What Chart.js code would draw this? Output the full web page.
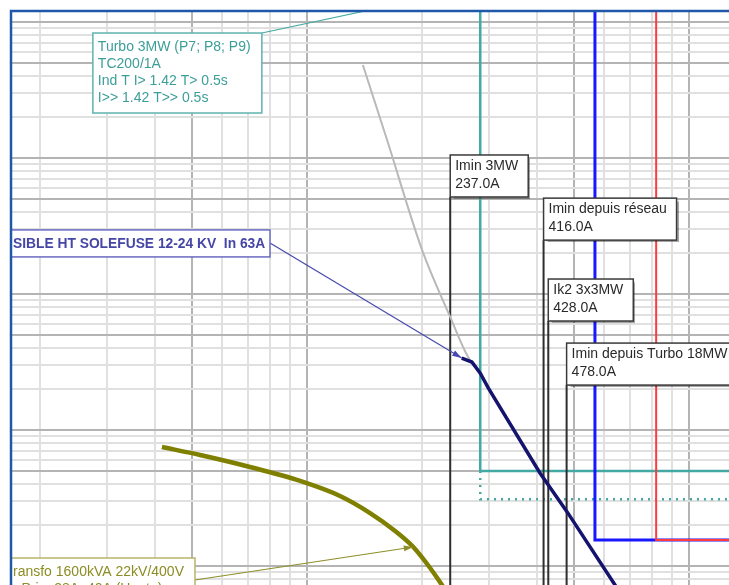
<!DOCTYPE html>
<html>
<head>
<meta charset="utf-8">
<script src="https://cdn.jsdelivr.net/npm/chart.js@4"></script>
<style>
  body { margin: 0; background: #fff; }
  canvas { display: block; }
</style>
</head>
<body>
<canvas id="courbes" width="729" height="585"></canvas>
<script>
// axis range (A / s)
const currentMin = 16.79, currentMax = 1272;
const timeMin = 0.0725, timeMax = 1205;

// relais turbo 3MW (definite time)
const turboI = [284, 284, 2000];
const turboT = [5000, 0.5, 0.5];
const turboDotI = [284, 284, 2000];
const turboDotT = [0.5, 0.31, 0.31];

// blue / red definite time
const blueI = [567, 567, 2000];
const blueT = [5000, 0.155, 0.155];
const redI = [820, 820, 2000];
const redT = [5000, 0.155, 0.155];

// fusible 63A
const fuseI = [254, 270, 284, 298, 407, 480, 640, 700];
const fuseT = [3.38, 3.16, 2.62, 2.04, 0.483, 0.249, 0.0725, 0.05];
const grayI = [140, 162, 200, 237, 264, 277];
const grayT = [483, 135.6, 21.1, 6.78, 3.44, 2.88];

// transfo 1600kVA
const oliveI = [41.7, 52.5, 70.9, 95.9, 122, 146.2, 170, 189.7, 210, 225.5, 236.5];
const oliveT = [0.75, 0.655, 0.535, 0.422, 0.327, 0.245, 0.181, 0.138, 0.0967, 0.0725, 0.0601];

// Imin markers
const iminI = [237, 416, 428, 478];
const iminTop = [51.7, 24.9, 6.33, 2.14];
const iminText = [['Imin 3MW', '237.0A'], ['Imin depuis réseau', '416.0A'], ['Ik2 3x3MW', '428.0A'], ['Imin depuis Turbo 18MW', '478.0A']];
const iminWidth = [78, 133, 85, 185];

const pts = (xs, ys) => xs.map((x, i) => ({x: x, y: ys[i]}));

function line(data, color, width, extra) {
  return Object.assign({data: data, borderColor: color, borderWidth: width, pointRadius: 0,
    fill: false, tension: 0, clip: 0}, extra || {});
}

const smooth = {cubicInterpolationMode: 'monotone'};
const datasets = [
  line(pts(fuseI, fuseT), '#14146e', 3.5),
  line(pts(oliveI, oliveT), '#7f7f00', 4.5, smooth),
  line(pts(grayI, grayT), '#b9b9b9', 2, smooth)
];
iminI.forEach((v, i) => datasets.push(line(pts([v, v], [iminTop[i], 0.01]), '#2e2e2e', 2)));
datasets.push(line(pts(redI, redT), '#ff3b3b', 2));
datasets.push(line(pts(blueI, blueT), '#1818ff', 3));
datasets.push(line(pts(turboI, turboT), '#44a9a2', 2.5));
datasets.push(line(pts(turboDotI, turboDotT), '#44a9a2', 2.5, {borderDash: [2, 5]}));

function gridTicks(lo, hi) {
  const t = [];
  for (let e = lo; e <= hi; e++) for (let m = 1; m < 10; m++) t.push({value: m * Math.pow(10, e)});
  return t;
}
const gridColor = ctx => {
  const v = ctx.tick.value;
  const m = Math.round(v / Math.pow(10, Math.floor(Math.log10(v) + 1e-9)));
  return (m === 1 || m === 5) ? '#b4b4b4' : '#e0e0e0';
};

function drawBox(ctx, x, y, w, h, lines, o) {
  ctx.save();
  ctx.fillStyle = '#fff';
  if (o.shadow) {
    ctx.shadowColor = 'rgba(0,0,0,0.35)';
    ctx.shadowOffsetX = 2; ctx.shadowOffsetY = 2; ctx.shadowBlur = 1;
  }
  ctx.fillRect(x, y, w, h);
  ctx.restore();
  ctx.save();
  ctx.strokeStyle = o.border; ctx.lineWidth = 1.5;
  ctx.strokeRect(x, y, w, h);
  ctx.fillStyle = o.color;
  ctx.font = o.font;
  ctx.textBaseline = 'middle';
  lines.forEach((s, i) => ctx.fillText(s, x + o.padX, y + o.firstY + i * o.lineH));
  ctx.restore();
}

function arrowLine(ctx, x1, y1, x2, y2, color, head) {
  ctx.save();
  ctx.strokeStyle = color; ctx.fillStyle = color; ctx.lineWidth = 1.2;
  ctx.beginPath(); ctx.moveTo(x1, y1); ctx.lineTo(x2, y2); ctx.stroke();
  if (head) {
    const a = Math.atan2(y2 - y1, x2 - x1);
    ctx.beginPath();
    ctx.moveTo(x2, y2);
    ctx.lineTo(x2 - 10 * Math.cos(a - 0.3), y2 - 10 * Math.sin(a - 0.3));
    ctx.lineTo(x2 - 10 * Math.cos(a + 0.3), y2 - 10 * Math.sin(a + 0.3));
    ctx.closePath(); ctx.fill();
  }
  ctx.restore();
}

const font = '14px "Liberation Sans", Arial';

const labelsPlugin = {
  id: 'labels',
  afterDatasetsDraw(chart) {
    const {ctx, chartArea: a, scales: {x, y}} = chart;
    ctx.save();
    ctx.beginPath(); ctx.rect(a.left, a.top, a.right - a.left, a.bottom - a.top); ctx.clip();

    // Imin boxes
    iminI.forEach((v, i) => {
      const px = x.getPixelForValue(v), py = y.getPixelForValue(iminTop[i]);
      drawBox(ctx, px, py - 42, iminWidth[i], 42, iminText[i],
        {border: '#3a3a3a', color: '#2a2a2a', font: font, padX: 5, firstY: 11, lineH: 18, shadow: true});
    });

    // turbo 3MW
    const tx = x.getPixelForValue(27.5), ty = y.getPixelForValue(830);
    arrowLine(ctx, tx + 169, ty, x.getPixelForValue(142), y.getPixelForValue(timeMax), '#44a9a2', false);
    drawBox(ctx, tx, ty, 169, 80, ['Turbo 3MW (P7; P8; P9)', 'TC200/1A', 'Ind T I> 1.42 T> 0.5s', 'I>> 1.42 T>> 0.5s'],
      {border: '#5fb3ae', color: '#3c9e98', font: font, padX: 5, firstY: 14, lineH: 17});

    // fusible
    const fy = y.getPixelForValue(29.6);
    arrowLine(ctx, a.left + 259, fy + 13, x.getPixelForValue(fuseI[0]), y.getPixelForValue(fuseT[0]), '#4848b0', true);
    drawBox(ctx, a.left - 1, fy, 260, 27, ['SIBLE HT SOLEFUSE 12-24 KV  In 63A'],
      {border: '#6a6ac4', color: '#4646a6', font: 'bold 13.8px "Liberation Sans", Arial', padX: 3, firstY: 14, lineH: 17});

    // transfo
    const oy = y.getPixelForValue(0.1145);
    arrowLine(ctx, a.left + 184, oy + 22, x.getPixelForValue(189.7), y.getPixelForValue(0.138), '#8e8e2a', true);
    drawBox(ctx, a.left - 1, oy, 185, 40, ['ransfo 1600kVA 22kV/400V', '- Prim 38A  40A (Haute)'],
      {border: '#b5b56a', color: '#8c8c24', font: font, padX: 3, firstY: 14, lineH: 17});
    ctx.restore();

    // frame
    ctx.save();
    ctx.strokeStyle = '#1f58aa'; ctx.lineWidth = 2.5;
    ctx.beginPath();
    ctx.moveTo(a.left, a.bottom); ctx.lineTo(a.left, a.top); ctx.lineTo(a.right, a.top);
    ctx.stroke();
    ctx.restore();
  }
};

new Chart(document.querySelector('#courbes'), {
  type: 'line',
  data: {datasets: datasets},
  options: {
    responsive: false,
    animation: false,
    layout: {padding: {left: 11, top: 11, right: 0, bottom: 0}},
    plugins: {legend: {display: false}, tooltip: {enabled: false}},
    scales: {
      x: {
        type: 'logarithmic', min: currentMin, max: currentMax,
        afterBuildTicks: s => { s.ticks = gridTicks(1, 3); },
        ticks: {display: false},
        border: {display: false},
        grid: {drawTicks: false, color: gridColor, lineWidth: 2}
      },
      y: {
        type: 'logarithmic', min: timeMin, max: timeMax,
        afterBuildTicks: s => { s.ticks = gridTicks(-2, 3); },
        ticks: {display: false},
        border: {display: false},
        grid: {drawTicks: false, color: gridColor, lineWidth: 2}
      }
    }
  },
  plugins: [labelsPlugin]
});
</script>
</body>
</html>
